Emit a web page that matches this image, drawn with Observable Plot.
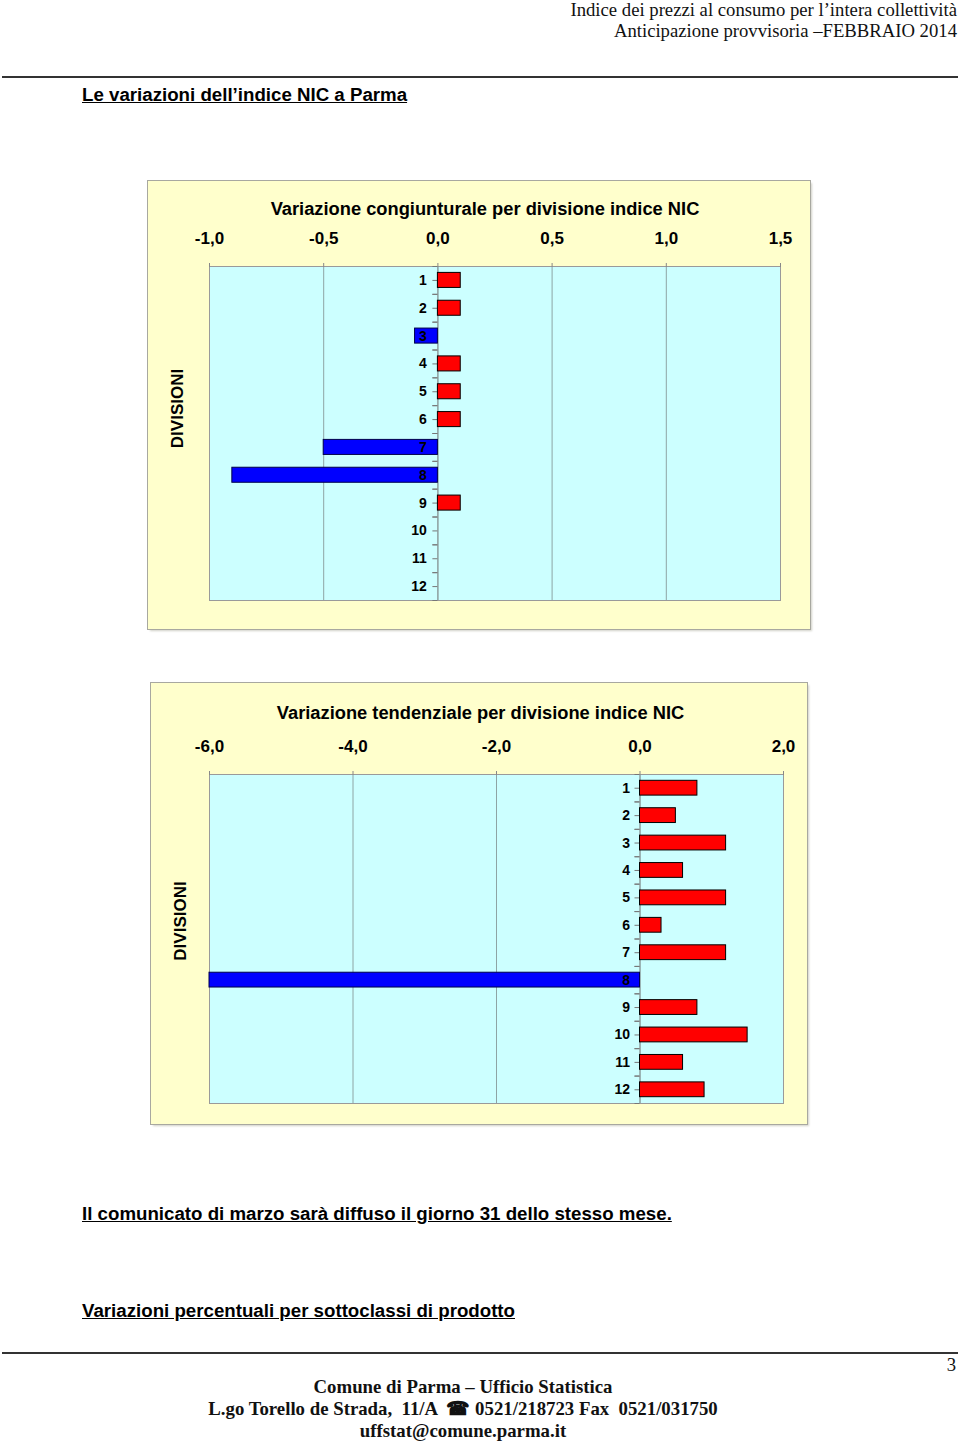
<!DOCTYPE html>
<html>
<head>
<meta charset="utf-8">
<script src="https://cdn.jsdelivr.net/npm/d3@7"></script>
<script src="https://cdn.jsdelivr.net/npm/@observablehq/plot@0.6"></script>
<style>
  html, body { margin: 0; padding: 0; background: #fff; }
  body { width: 960px; height: 1442px; position: relative; overflow: hidden; }
  .abs { position: absolute; white-space: nowrap; }
  .serif { font-family: "Liberation Serif", "Times New Roman", serif; color: #111; }
  .sans { font-family: "Liberation Sans", Arial, sans-serif; color: #000; font-weight: bold; }
  .hr { position: absolute; left: 2px; width: 956px; height: 2px; background: #333; }
  .box { position: absolute; background: #FFFFCC; box-shadow: 0 0 0 1px #a8a8a0, 2px 2px 2px #d0d0c8; }
  .box svg { position: absolute; left: 0; top: 0; }
</style>
</head>
<body>
<script>
// ---- Data ----
const divisions = ["1", "2", "3", "4", "5", "6", "7", "8", "9", "10", "11", "12"];
const congiunturale = [0.1, 0.1, -0.1, 0.1, 0.1, 0.1, -0.5, -0.9, 0.1, 0.0, 0.0, 0.0];
const tendenziale = [0.8, 0.5, 1.2, 0.6, 1.2, 0.3, 1.2, -6.0, 0.8, 1.5, 0.6, 0.9];
const congTicks = [-1.0, -0.5, 0.0, 0.5, 1.0, 1.5];
const tendTicks = [-6.0, -4.0, -2.0, 0.0, 2.0];
const congTitle = "Variazione congiunturale per divisione indice NIC";
const tendTitle = "Variazione tendenziale per divisione indice NIC";
const yLabel = "DIVISIONI";

const fmt = d => d.toFixed(1).replace(".", ",");
const FONT = '"Liberation Sans", Arial, sans-serif';

function addText(cls, text, style) {
  const el = document.createElement("div");
  el.className = "abs " + cls;
  el.textContent = text;
  Object.assign(el.style, style);
  document.body.appendChild(el);
  return el;
}

function makeChart(opts) {
  const { values, ticks, title, box, margins, titleDx, titleDy, labelDx, labelDy, textDx } = opts;
  const data = divisions.map((d, i) => ({ div: d, v: values[i] }));
  const [mt, mr, mb, ml] = margins;
  const step = (box.h - mt - mb) / divisions.length;
  const domain = [ticks[0], ticks[ticks.length - 1]];
  const plot = Plot.plot({
    width: box.w,
    height: box.h,
    marginTop: mt, marginRight: mr, marginBottom: mb, marginLeft: ml,
    style: { background: "transparent", fontFamily: FONT, overflow: "visible" },
    x: { domain, axis: null, label: null },
    y: { domain: divisions, paddingInner: 0.46, paddingOuter: 0.23, round: false, axis: null, label: null },
    marks: [
      Plot.frame({ fill: "#CCFFFF", stroke: "#9a9a9a" }),
      Plot.ruleX(ticks.slice(1, -1), { stroke: "#8ea4a4", strokeWidth: 1 }),
      Plot.frame({ stroke: "#9a9a9a" }),
      Plot.axisX({ ticks, anchor: "top", label: null, tickSize: 4, tickPadding: 19, tickFormat: fmt,
                   fontSize: 17, fontWeight: "bold", stroke: "#888", fill: "#000" }),
      Plot.ruleX([0], { stroke: "#8a9a9a" }),
      Plot.ruleY(data, { y: "div", x1: 0, x2: 0, insetLeft: -5, stroke: "#777" }),
      Plot.ruleY(data, { y: "div", x1: 0, x2: 0, insetLeft: -5, dy: -step / 2, stroke: "#777" }),
      Plot.ruleY(data, { y: "div", x1: 0, x2: 0, insetLeft: -5, dy: step / 2, stroke: "#777" }),
      Plot.barX(data, { x: "v", y: "div",
        fill: d => d.v < 0 ? "#0000FF" : "#FF0000",
        stroke: d => d.v < 0 ? "#00004a" : "#000", strokeWidth: 1 }),
      Plot.text(data, { x: 0, y: "div", text: "div", dx: textDx, textAnchor: "end",
        fontSize: 14, fontWeight: "bold", fill: "#000" }),
      Plot.text([title], { frameAnchor: "top", text: d => d, dx: titleDx, dy: titleDy,
        textAnchor: "middle", lineAnchor: "middle",
        fontSize: 18.3, fontWeight: "bold", fill: "#000" }),
      Plot.text([yLabel], { frameAnchor: "left", text: d => d, rotate: -90, dx: labelDx, dy: labelDy,
        textAnchor: "middle", lineAnchor: "middle",
        fontSize: 17, fontWeight: "bold", fill: "#000" })
    ]
  });
  const wrap = document.createElement("div");
  wrap.className = "box";
  Object.assign(wrap.style, { left: box.x + "px", top: box.y + "px", width: box.w + "px", height: box.h + "px" });
  wrap.appendChild(plot);
  document.body.appendChild(wrap);
}

// ---- Header ----
addText("serif", "Indice dei prezzi al consumo per l\u2019intera collettività",
  { right: "3px", top: "0px", fontSize: "18.7px", lineHeight: "20px" });
addText("serif", "Anticipazione provvisoria \u2013FEBBRAIO 2014",
  { right: "3px", top: "21px", fontSize: "18.7px", lineHeight: "20px" });
const hr1 = document.createElement("div"); hr1.className = "hr"; hr1.style.top = "76px"; document.body.appendChild(hr1);

addText("sans", "Le variazioni dell\u2019indice NIC a Parma",
  { left: "82px", top: "85px", fontSize: "18.7px", lineHeight: "20px", textDecoration: "underline" });

// ---- Charts ----
makeChart({
  values: congiunturale, ticks: congTicks, title: congTitle,
  box: { x: 148, y: 181, w: 662, h: 448 },
  margins: [85, 30, 29, 61],
  titleDx: -10, titleDy: -57, labelDx: -32, labelDy: -25, textDx: -11
});
makeChart({
  values: tendenziale, ticks: tendTicks, title: tendTitle,
  box: { x: 151, y: 683, w: 656, h: 441 },
  margins: [91, 24, 21, 58],
  titleDx: -16, titleDy: -61, labelDx: -29, labelDy: -18, textDx: -10
});

// ---- Bottom texts ----
addText("sans", "Il comunicato di marzo sarà diffuso il giorno 31 dello stesso mese.",
  { left: "82px", top: "1204px", fontSize: "18.7px", lineHeight: "20px", textDecoration: "underline" });
addText("sans", "Variazioni percentuali per sottoclassi di prodotto",
  { left: "82px", top: "1301px", fontSize: "18.7px", lineHeight: "20px", textDecoration: "underline" });

const hr2 = document.createElement("div"); hr2.className = "hr"; hr2.style.top = "1352px"; document.body.appendChild(hr2);
addText("serif", "3", { right: "4px", top: "1355px", fontSize: "18.7px", lineHeight: "20px" });

addText("serif", "Comune di Parma \u2013 Ufficio Statistica",
  { left: "0px", width: "926px", textAlign: "center", top: "1377px", fontSize: "18.8px", lineHeight: "20px", fontWeight: "bold" });
addText("serif", "L.go Torello de Strada,  11/A  \u260E 0521/218723 Fax  0521/031750",
  { left: "0px", width: "926px", textAlign: "center", top: "1399px", fontSize: "18.8px", lineHeight: "20px", fontWeight: "bold", whiteSpace: "pre" });
addText("serif", "uffstat@comune.parma.it",
  { left: "0px", width: "926px", textAlign: "center", top: "1421px", fontSize: "18.8px", lineHeight: "20px", fontWeight: "bold" });
</script>
</body>
</html>
